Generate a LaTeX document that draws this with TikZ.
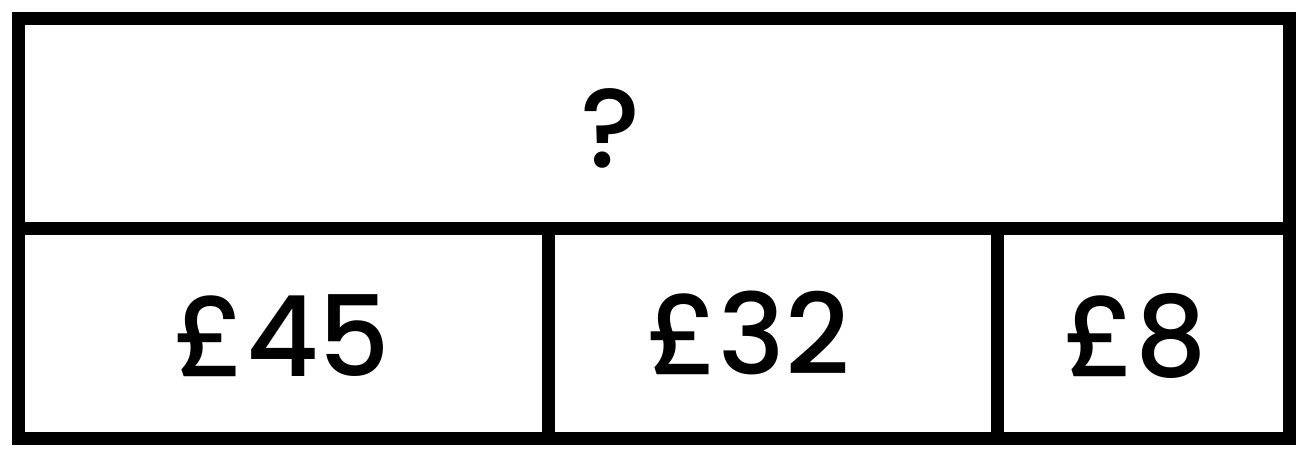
\documentclass[tikz,border=0pt]{standalone}
\usepackage{fontspec}
\setmainfont{Poppins Medium}
\begin{document}
\begin{tikzpicture}[x=0.75pt,y=-0.75pt,
  frame/.style={line width=9.75pt,line cap=rect,line join=miter},
  lbl/.style={inner sep=0pt,anchor=base,font=\fontsize{84}{86}\selectfont}]
\useasboundingbox (0,0) rectangle (1303,451);
\coordinate (tl) at (18.5,18);
\coordinate (br) at (1289,438.5);
\draw[frame] (tl) rectangle (br);
\coordinate (ml) at (18.5,228.5);
\coordinate (mr) at (1289,228.5);
\draw[frame] (ml) -- (mr);
\coordinate (v1t) at (548.5,228.5);
\coordinate (v1b) at (548.5,438.5);
\coordinate (v2t) at (997.5,228.5);
\coordinate (v2b) at (997.5,438.5);
\draw[frame] (v1t) -- (v1b);
\draw[frame] (v2t) -- (v2b);
\node[lbl] (q) at (611,167) {?};
\node[lbl] (a) at (282,376) {£45};
\node[lbl] (b) at (748,374) {£32};
\node[lbl] (c) at (1135,376) {£8};
\end{tikzpicture}
\end{document}
